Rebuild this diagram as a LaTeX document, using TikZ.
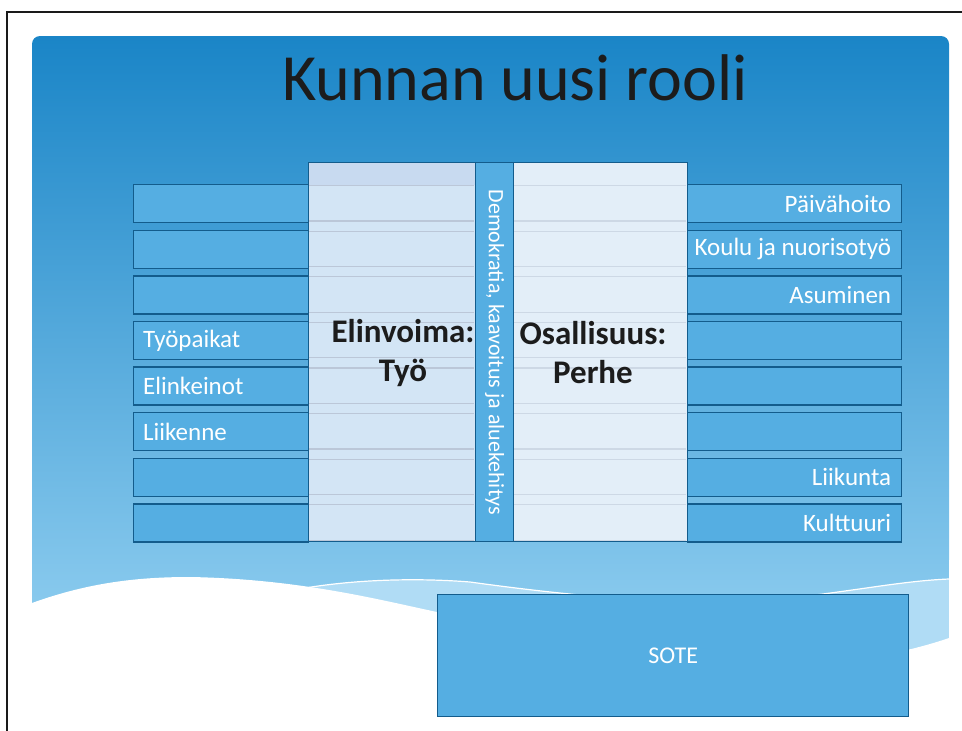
\documentclass[tikz,border=0pt]{standalone}
\usepackage{fontspec}
\setmainfont{Carlito}
\definecolor{bgtop}{HTML}{1A85C7}
\definecolor{bgbot}{HTML}{9BD5F4}
\definecolor{band}{HTML}{B0DCF5}
\definecolor{barfill}{HTML}{55AEE2}
\definecolor{barline}{HTML}{135C8C}
\definecolor{panelL}{HTML}{D3E5F5}
\definecolor{panelLtop}{HTML}{C8DAF0}
\definecolor{panelR}{HTML}{E3EEF8}
\definecolor{shinec}{HTML}{B3BECF}
\definecolor{framec}{HTML}{1A1A1A}
\definecolor{titlec}{HTML}{1C1C1C}
\begin{document}
\begin{tikzpicture}[x=1pt,y=-1pt,
  bar/.style={draw=barline, fill=barfill, line width=1.3pt, minimum height=38pt, inner sep=0pt, anchor=north west},
  lbar/.style={bar, minimum width=175pt},
  rbar/.style={bar, minimum width=214pt},
  bartext/.style={text=white, font=\fontsize{25}{28}\selectfont, inner sep=0pt},
  panel/.style={draw=barline, line width=1.3pt, anchor=north west, inner sep=0pt, minimum height=379pt},
  bigtext/.style={font=\fontsize{33}{39}\selectfont\bfseries, text=titlec, align=center},
  shine/.style={draw=shinec, line width=1.2pt, opacity=0.75},
]
\useasboundingbox (0,0) rectangle (962,731);
% background
\shade[top color=bgtop, bottom color=bgbot, rounded corners=8pt] (32,36) rectangle (949,700);
% light band below the white line
\fill[band] (305,588) .. controls (360,579) and (420,578) .. (470,582)
  .. controls (600,600) and (700,606) .. (780,599)
  .. controls (850,592) and (900,581) .. (949,579) -- (949,731) -- (305,731) -- cycle;
% white wave
\fill[white] (32,603) .. controls (90,582) and (140,577) .. (190,577)
  .. controls (300,579) and (380,600) .. (437,612)
  .. controls (560,640) and (700,668) .. (800,665)
  .. controls (870,661) and (920,648) .. (949,638)
  -- (949,731) -- (32,731) -- cycle;
\fill[white] (949,560) rectangle (962,731);
% white line
\draw[white, line width=1.2pt] (305,588) .. controls (360,579) and (420,578) .. (470,582)
  .. controls (600,600) and (700,606) .. (780,599)
  .. controls (850,592) and (900,581) .. (949,579);
% title
\node[anchor=base, text=titlec, font=\fontsize{66}{70}\selectfont, inner sep=0pt] (title) at (515,100) {Kunnan uusi rooli};
% left bars
\node[lbar] (L1) at (133,184) {};
\node[lbar] (L2) at (133,229.6) {};
\node[lbar] (L3) at (133,275.2) {};
\node[lbar] (L4) at (133,320.8) {};
\node[lbar] (L5) at (133,366.4) {};
\node[lbar] (L6) at (133,412) {};
\node[lbar] (L7) at (133,457.6) {};
\node[lbar] (L8) at (133,503.2) {};
\node[bartext, anchor=west] (L4t) at ([xshift=10pt]L4.west) {Työpaikat};
\node[bartext, anchor=west] (L5t) at ([xshift=10pt]L5.west) {Elinkeinot};
\node[bartext, anchor=west] (L6t) at ([xshift=10pt]L6.west) {Liikenne};
% right bars
\node[rbar] (R1) at (687,184) {};
\node[rbar] (R2) at (687,229.6) {};
\node[rbar] (R3) at (687,275.2) {};
\node[rbar] (R4) at (687,320.8) {};
\node[rbar] (R5) at (687,366.4) {};
\node[rbar] (R6) at (687,412) {};
\node[rbar] (R7) at (687,457.6) {};
\node[rbar] (R8) at (687,503.2) {};
\node[bartext, anchor=east] (R1t) at ([xshift=-11pt]R1.east) {Päivähoito};
\node[bartext, anchor=east] (R2t) at ([xshift=-11pt]R2.east) {Koulu ja nuorisotyö};
\node[bartext, anchor=east] (R3t) at ([xshift=-11pt]R3.east) {Asuminen};
\node[bartext, anchor=east] (R7t) at ([xshift=-11pt]R7.east) {Liikunta};
\node[bartext, anchor=east] (R8t) at ([xshift=-11pt]R8.east) {Kulttuuri};
% panels
\fill[panelL] (308,162) rectangle (475,541);
\fill[panelLtop] (308,162) rectangle (475,185);
\fill[panelR] (513,162) rectangle (687,541);
\foreach \t in {184,229.6,275.2,320.8,366.4,412,457.6,503.2} {
  \draw[shine] (309,{\t+1.5}) -- (474,{\t+1.5});
  \draw[shine] (309,{\t+37}) -- (474,{\t+37});
  \draw[shine, opacity=0.45] (514,{\t+1.5}) -- (686,{\t+1.5});
  \draw[shine, opacity=0.45] (514,{\t+37}) -- (686,{\t+37});
}
\node[panel, minimum width=167pt] (PL) at (308,162) {};
\node[panel, minimum width=174pt] (PR) at (513,162) {};
\node[panel, fill=barfill, minimum width=38pt] (DK) at (475,162) {};
\node[rotate=-90, text=white, font=\fontsize{22}{24}\selectfont, inner sep=0pt] (DKt) at (DK.center) {Demokratia, kaavoitus ja aluekehitys};
\node[bigtext] (PLt) at (403,353) {Elinvoima:\\Työ};
\node[bigtext] (PRt) at (593,353) {Osallisuus:\\Perhe};
% SOTE
\node[draw=barline, fill=barfill, line width=1.3pt, anchor=north west, minimum width=471pt, minimum height=122pt, text=white, font=\fontsize{24}{28}\selectfont] (SOTE) at (437,594) {SOTE};
% frame
\draw[framec, line width=2pt] (7,731) -- (7,12) -- (962,12);
\end{tikzpicture}
\end{document}
